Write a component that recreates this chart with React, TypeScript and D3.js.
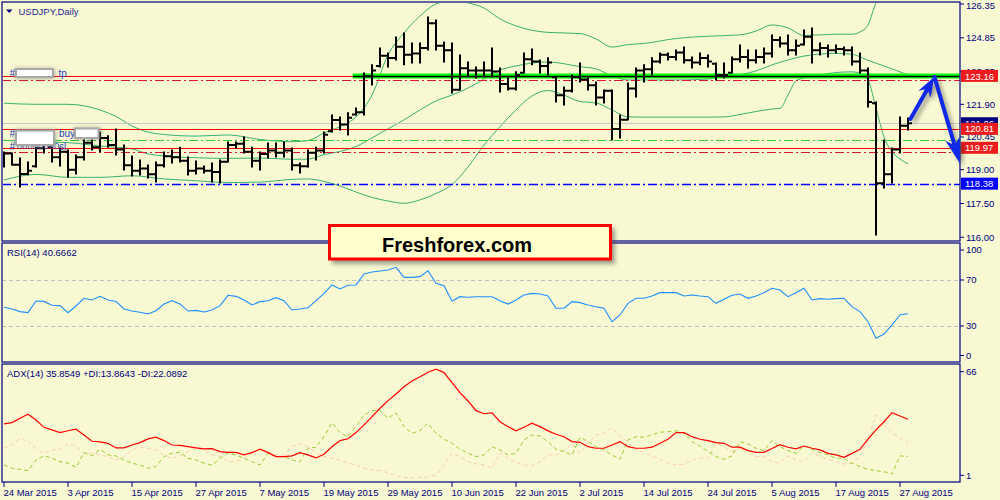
import React, { useEffect } from "react";
import * as d3 from "d3";

// ---------- DATA ----------
const dateTickIdx = [0, 8, 16, 24, 32, 40, 48, 56, 64, 72, 80, 88, 96, 104, 112];
const dateTickLabels = [
  "24 Mar 2015", "3 Apr 2015", "15 Apr 2015", "27 Apr 2015", "7 May 2015",
  "19 May 2015", "29 May 2015", "10 Jun 2015", "22 Jun 2015", "2 Jul 2015",
  "14 Jul 2015", "24 Jul 2015", "5 Aug 2015", "17 Aug 2015", "27 Aug 2015",
];

const openP = [119.70,119.72,119.22,118.81,119.15,119.95,120.00,119.55,119.80,119.00,
119.55,120.20,120.00,120.40,120.10,119.90,119.20,118.95,119.05,118.80,
119.20,119.60,119.55,119.40,118.95,119.05,118.95,118.90,119.35,120.10,
120.15,119.80,119.40,119.70,119.85,119.75,119.85,119.20,119.15,119.75,
119.85,120.70,121.20,121.00,121.45,121.55,123.15,123.60,124.05,123.95,
124.45,124.10,124.15,124.40,125.50,124.50,124.30,122.55,123.50,123.40,
123.40,123.40,123.35,122.80,122.60,123.30,123.90,123.80,123.60,123.10,
122.30,122.50,123.10,123.00,122.75,122.20,122.50,120.80,121.21,122.60,
123.40,123.45,123.80,124.10,124.00,124.20,123.85,123.75,123.95,123.70,
123.20,123.30,123.90,124.00,123.85,124.00,124.15,124.75,124.60,124.30,
124.55,124.90,124.30,124.40,124.30,124.35,124.30,123.80,123.40,121.95,
118.40,118.80,119.90,120.95];
const highP = [119.78,119.74,119.52,119.34,120.00,120.32,120.00,119.96,119.87,119.65,
120.32,120.32,120.67,120.50,120.81,120.10,119.61,119.43,119.21,119.34,
119.78,119.87,120.00,119.56,119.39,119.16,119.30,119.43,120.23,120.23,
120.45,120.00,119.78,120.18,120.18,120.23,119.96,119.30,119.87,120.00,
120.67,121.43,121.34,121.52,121.74,123.29,123.65,124.40,124.18,124.89,
125.06,124.62,124.62,125.77,125.64,124.66,124.62,124.09,123.78,123.56,
123.78,124.40,123.51,123.11,123.34,124.18,124.35,123.87,123.96,123.11,
122.67,123.20,123.73,123.11,122.89,122.54,122.54,121.43,122.85,123.51,
123.65,123.96,124.18,124.18,124.31,124.44,124.00,124.18,124.09,123.73,
123.73,124.00,124.53,124.31,124.31,124.40,124.98,124.89,124.98,124.75,
125.20,125.29,124.62,124.53,124.53,124.44,124.44,124.18,123.51,122.00,
120.32,119.96,121.34,121.29];
const lowP = [119.12,119.21,118.23,118.77,119.12,119.74,119.34,119.16,118.68,118.81,
119.43,119.87,119.79,120.00,119.65,118.99,118.72,118.76,118.63,118.45,
119.12,119.30,119.34,118.76,118.81,118.85,118.45,118.41,119.34,119.96,
119.74,119.12,118.99,119.52,119.56,119.56,118.99,118.85,119.12,119.43,
119.74,120.67,120.76,120.54,121.43,121.43,122.76,123.56,123.56,123.87,
123.65,123.73,123.73,124.31,124.31,123.78,122.40,122.54,123.11,123.07,
123.11,123.11,122.45,122.54,122.54,123.29,123.65,123.29,123.20,122.00,
121.87,122.45,122.89,122.54,121.87,121.96,120.32,120.41,121.21,122.22,
122.89,123.20,123.73,123.87,123.87,123.73,123.51,123.65,123.56,122.98,
123.07,123.29,123.78,123.51,123.73,123.73,124.00,124.44,124.09,124.09,
124.53,123.73,124.09,124.00,124.18,124.09,123.64,123.29,121.78,116.10,
118.19,118.41,119.74,120.76];
const closeP = [119.72,119.22,118.81,118.95,119.95,120.10,119.55,119.80,119.00,119.55,
120.20,120.00,120.40,120.10,119.90,119.20,118.95,119.05,118.80,119.20,
119.60,119.55,119.40,118.95,119.05,118.95,118.90,119.35,120.10,120.15,
119.80,119.40,119.70,119.85,119.75,119.85,119.20,119.15,119.75,119.85,
120.55,121.20,121.00,121.30,121.55,123.15,123.40,124.05,123.95,124.45,
124.10,124.15,124.40,125.50,124.50,124.30,122.55,123.50,123.40,123.40,
123.40,123.35,122.80,122.60,123.20,123.90,123.80,123.60,123.75,122.30,
122.50,123.10,123.00,122.75,122.20,122.50,120.80,121.21,122.60,123.40,
123.45,123.80,124.10,124.00,124.20,123.85,123.75,123.95,123.80,123.20,
123.20,123.90,124.00,123.85,124.00,124.15,124.75,124.60,124.30,124.50,
124.90,124.30,124.40,124.30,124.35,124.30,123.80,123.40,122.00,118.40,
118.80,119.90,120.95,121.06];

const bbUpIdx = [0,4,8,12,14,16,18,20,24,28,32,36,38,40,42,44,46,48,50,52,54,56,58,60,62,64,68,72,74,76,78,80,84,88,92,94,96,98,100,104,106,107,108,109,110,111,112,113];
const bbUpVal = [121.95,121.90,121.90,121.65,121.36,120.94,120.67,120.56,120.49,120.54,120.34,120.24,120.29,120.63,120.91,121.34,122.31,124.09,125.07,125.82,126.35,126.49,126.40,126.17,125.69,125.38,125.09,125.04,124.80,124.44,124.55,124.60,124.82,124.92,124.98,125.15,125.42,125.29,124.95,125.01,125.01,125.11,125.42,126.40,126.80,127.06,127.15,127.15];
const bbMidIdx = [0,4,8,12,16,18,20,24,28,32,36,38,40,42,44,46,48,50,52,54,56,58,60,62,64,66,68,72,74,76,78,80,84,88,90,92,94,96,98,100,104,106,108,110,112,113];
const bbMidVal = [120.30,120.24,120.20,120.05,119.92,119.70,119.61,119.53,119.50,119.52,119.46,119.47,119.67,119.81,120.03,120.41,120.81,121.21,121.65,122.05,122.31,122.62,123.02,123.42,123.60,123.73,123.78,123.57,123.47,123.16,122.98,122.98,122.98,123.02,123.14,123.22,123.38,123.65,123.87,124.04,124.16,124.12,123.85,123.60,123.34,123.20];
const bbLowIdx = [0,4,8,12,16,20,24,28,32,36,38,40,42,44,46,48,50,52,54,56,58,60,62,64,66,68,70,72,74,76,78,80,84,88,90,92,94,96,97,98,99,100,102,104,106,107,108,109,110,111,112,113];
const bbLowVal = [118.54,118.79,118.66,118.66,118.73,118.59,118.51,118.43,118.45,118.57,118.59,118.48,118.28,118.01,117.77,117.61,117.51,117.66,117.94,118.34,119.12,120.09,120.91,121.65,122.27,122.51,122.31,122.02,121.96,121.65,121.34,121.33,121.33,121.33,121.34,121.45,121.58,121.69,121.72,122.31,122.94,123.07,123.20,123.31,123.34,123.28,122.98,121.74,120.45,119.79,119.48,119.25];

const rsiVals = [46.3,44.8,42.5,41.6,51.7,51.4,48.0,47.7,41.6,47.4,54.1,52.6,55.8,52.6,51.4,44.8,43.0,41.9,40.4,43.3,
49.1,52.0,49.1,43.0,43.6,42.2,43.9,47.7,56.7,55.8,52.6,48.3,51.2,52.0,54.6,52.0,43.9,44.8,45.9,52.0,
58.4,65.7,62.2,65.4,65.7,75.2,77.0,77.8,78.7,81.0,72.3,72.3,72.9,78.1,67.1,65.0,51.7,55.5,55.0,55.5,
55.5,55.5,52.0,49.1,52.6,57.0,58.4,57.8,56.1,45.4,45.4,51.2,50.3,48.3,46.8,45.4,33.7,39.6,49.7,54.1,
54.1,56.1,59.0,59.0,59.0,56.1,57.0,56.1,55.5,49.7,53.2,56.7,57.8,54.1,56.1,59.0,62.8,61.3,55.5,59.0,
62.8,52.6,53.8,53.2,53.8,54.1,46.8,42.5,33.7,19.3,23.0,30.9,39.6,40.67];

const adxVals = [33.1,33.9,36.4,38.8,35.4,31.1,29.6,28.0,29.1,30.0,26.6,22.9,22.5,21.7,19.0,19.0,20.7,22.1,24.3,25.3,
23.3,20.7,20.5,19.7,19.0,18.4,18.6,16.8,16.4,16.4,14.9,16.2,18.2,16.2,13.9,13.9,14.3,16.2,14.9,13.1,
15.3,19.7,23.3,24.4,28.0,32.5,37.4,42.3,46.8,50.7,55.0,58.4,60.9,63.5,65.3,63.3,57.4,51.5,46.6,40.9,
39.1,39.6,34.4,31.5,29.0,31.1,33.5,31.5,29.0,27.0,25.6,22.7,22.3,19.7,18.8,18.8,20.7,22.7,19.7,18.8,
18.8,19.4,21.7,24.1,28.0,28.0,25.6,24.1,23.3,22.1,21.7,19.4,19.4,17.4,16.4,16.4,18.6,20.9,19.4,18.4,
20.1,18.8,17.8,15.8,14.9,13.5,15.8,18.2,24.1,29.6,34.4,39.7,37.8,35.85];
const plusDI = [8.95,7.0,6.4,5.6,11.9,14.4,12.9,10.9,10.0,7.6,16.2,14.3,18.2,14.85,14.3,11.9,10.0,8.95,7.0,8.0,
13.9,15.85,16.4,12.9,11.9,10.0,8.8,12.9,15.85,14.85,12.9,10.9,8.95,15.85,13.9,13.9,11.9,10.9,18.8,19.4,
25.6,33.85,28.0,25.6,31.5,38.4,40.9,40.9,36.4,39.7,31.5,27.6,29.1,33.5,27.6,24.1,21.7,18.2,15.85,13.9,
14.85,19.7,17.8,14.85,15.85,23.7,26.6,26.0,22.7,18.2,16.8,14.85,25.3,22.7,19.7,17.8,14.85,12.3,23.7,25.6,
25.3,26.6,28.2,28.6,29.1,27.6,22.7,20.15,16.8,13.9,12.3,14.3,22.7,21.3,18.8,17.4,23.3,19.7,17.4,15.85,
20.15,18.2,16.2,14.85,12.9,12.9,10.0,8.0,6.4,5.6,5.0,3.7,14.3,13.86];
const minusDI = [18.8,20.7,24.7,22.7,18.8,15.85,17.8,18.2,21.7,19.7,15.85,15.85,14.85,13.9,11.9,13.9,17.8,19.7,18.8,17.8,
14.85,12.9,14.3,16.8,18.8,17.8,14.85,13.9,10.9,10.9,12.9,15.85,18.8,16.8,14.85,14.85,19.7,21.3,19.7,15.85,
13.9,12.9,11.9,10.0,8.95,7.0,6.0,5.6,4.4,2.5,1.5,1.5,1.7,1.7,3.1,8.95,15.85,13.9,10.9,9.6,
8.95,7.0,15.85,12.9,10.3,8.95,8.4,10.9,14.85,14.85,17.4,21.3,15.85,21.7,26.6,27.6,31.1,25.6,22.7,17.8,
16.2,14.3,12.3,10.3,8.95,9.5,11.9,12.9,12.9,21.7,19.7,16.8,18.8,15.85,13.9,13.9,10.9,10.0,14.3,11.9,
10.9,15.85,13.9,12.3,10.9,9.5,10.0,13.9,23.7,38.4,32.5,28.0,24.7,22.09];

const priceTicks = [126.35, 124.85, 123.35, 121.9, 120.45, 119.0, 117.5, 116.0];
const rsiLevels = [70, 30];
const rsiAxisLabels = ["100", "70", "30", "0"];
const adxAxisLabels = ["66", "1"];

// horizontal trade / level lines
const tpLevel = 123.16;
const tpDashLevel = 122.96;
const bidLevel = 121.06;
const buyLevel = 120.81;
const greenDashLevel = 120.32;
const slLevel = 119.97;
const slDashLevel = 119.79;
const supportLevel = 118.38;
const highlightStartIdx = 43.6;

const priceBoxes = [
  { v: 123.16, bg: "#ee1c1c" },
  { v: 121.06, bg: "#000080" },
  { v: 120.81, bg: "#ee1c1c" },
  { v: 119.97, bg: "#ee1c1c" },
  { v: 118.38, bg: "#0000ff" },
];

// arrows (bar index, price)
const arrowUp = { from: [113.3, 121.25], to: [116.3, 123.12] };
const arrowDown = { from: [116.3, 123.12], to: [119.5, 119.27] };

const FONT = "'Liberation Sans', Arial, sans-serif";
const NAVY = "#000080";
const BG = "#F8F8D2";

function arrowPath(x0: number, y0: number, x1: number, y1: number, len: number, hw: number, notch: number) {
  const dx = x1 - x0, dy = y1 - y0;
  const d = Math.hypot(dx, dy);
  const ux = dx / d, uy = dy / d;
  const px = -uy, py = ux;
  const bx = x1 - ux * len, by = y1 - uy * len;
  const nx = x1 - ux * (len - notch), ny = y1 - uy * (len - notch);
  return {
    head: `M${x1},${y1}L${bx + px * hw},${by + py * hw}L${nx},${ny}L${bx - px * hw},${by - py * hw}Z`,
    shaft: `M${x0},${y0}L${nx},${ny}`,
  };
}

export default function App() {
  useEffect(() => {
    document.body.style.margin = "0";
  }, []);

  const W = 1000, H = 500;
  const L = 2, R = 960;
  const mainTop = 2, mainBot = 241, rsiTop = 243, rsiBot = 362, adxTop = 364, adxBot = 482;

  const x = d3.scaleLinear().domain([0, 113]).range([4, 908]);
  const y = d3.scaleLinear().domain([116, 126.35]).range([237.3, 4]);
  const yr = d3.scaleLinear().domain([0, 100]).range([360.5, 245.5]);
  const ya = d3.scaleLinear().domain([1, 66]).range([478.5, 368]);

  // bars
  const bp = d3.path();
  const tp = d3.path();
  openP.forEach((o, i) => {
    const cx = x(i);
    bp.moveTo(cx, y(highP[i]) - 0.5);
    bp.lineTo(cx, y(lowP[i]) + 0.5);
    tp.moveTo(cx - 4, y(o));
    tp.lineTo(cx, y(o));
    tp.moveTo(cx, y(closeP[i]));
    tp.lineTo(cx + 4, y(closeP[i]));
  });

  const bandLine = (idx: number[]) =>
    d3.line<number>().x((_, k) => x(idx[k])).y((v) => y(v)).curve(d3.curveMonotoneX);

  const upPath = bandLine(bbUpIdx)(bbUpVal) || "";
  const midPath = bandLine(bbMidIdx)(bbMidVal) || "";
  const lowPath = bandLine(bbLowIdx)(bbLowVal) || "";

  const rsiPath = d3.line<number>().x((_, i) => x(i)).y((v) => yr(v))(rsiVals) || "";
  const adxPath = d3.line<number>().x((_, i) => x(i)).y((v) => ya(v))(adxVals) || "";
  const pdiPath = d3.line<number>().x((_, i) => x(i)).y((v) => ya(v))(plusDI) || "";
  const mdiPath = d3.line<number>().x((_, i) => x(i)).y((v) => ya(v))(minusDI) || "";

  const a1 = arrowPath(x(arrowUp.from[0]), y(arrowUp.from[1]), x(arrowUp.to[0]), y(arrowUp.to[1]), 20, 7, 6);
  const a2 = arrowPath(x(arrowDown.from[0]), y(arrowDown.from[1]), x(arrowDown.to[0]), y(arrowDown.to[1]), 26, 7.5, 7);

  const hl = (v: number, color: string, dash?: string, x0 = L, x1 = R, w = 1) => (
    <line x1={x0} x2={x1} y1={Math.round(y(v)) + 0.5} y2={Math.round(y(v)) + 0.5} stroke={color} strokeWidth={w} strokeDasharray={dash} />
  );

  const rsiLabelYs = [250, yr(70), yr(30), 355.5];
  const adxLabelYs = [371.7, 475.3];

  return (
    <svg width={W} height={H} style={{ position: "absolute", left: 0, top: 0, display: "block" }} fontFamily={FONT}>
      <defs>
        <clipPath id="mainClip">
          <rect x={L + 1} y={mainTop + 1} width={R - L - 1} height={mainBot - mainTop - 1} />
        </clipPath>
        <clipPath id="rsiClip">
          <rect x={L + 1} y={rsiTop + 1} width={R - L - 1} height={rsiBot - rsiTop - 1} />
        </clipPath>
        <clipPath id="adxClip">
          <rect x={L + 1} y={adxTop + 1} width={R - L - 1} height={adxBot - adxTop - 1} />
        </clipPath>
        <filter id="blur3" x="-20%" y="-200%" width="140%" height="500%">
          <feGaussianBlur stdDeviation="3" />
        </filter>
        <filter id="blur2" x="-30%" y="-60%" width="160%" height="220%">
          <feGaussianBlur stdDeviation="2" />
        </filter>
      </defs>

      <rect x={0} y={0} width={W} height={H} fill={BG} />

      {/* ---------- MAIN PANEL ---------- */}
      <g clipPath="url(#mainClip)">
        {/* Bollinger bands */}
        <path d={upPath} fill="none" stroke="#3CB371" strokeWidth={1} />
        <path d={midPath} fill="none" stroke="#3CB371" strokeWidth={1} />
        <path d={lowPath} fill="none" stroke="#3CB371" strokeWidth={1} />

        {/* level lines */}
        {hl(bidLevel, "#C8C8C8")}
        {hl(tpLevel, "#FF0000")}
        {hl(tpDashLevel, "#DC143C", "9,3,2,3")}
        {hl(buyLevel, "#FF0000")}
        {hl(greenDashLevel, "#32CD32", "9,3,2,3")}
        {hl(slLevel, "#FF0000")}
        {hl(slDashLevel, "#DC143C", "9,3,2,3")}
        {hl(supportLevel, "#0000FF", "9,3,2,3", L, R, 1.3)}

        {/* highlighted resistance line with glow */}
        <line x1={x(highlightStartIdx)} x2={R + 4} y1={y(tpLevel)} y2={y(tpLevel)} stroke="#4a4a30" strokeOpacity={0.55} strokeWidth={11} filter="url(#blur3)" />
        <line x1={x(highlightStartIdx)} x2={R} y1={y(tpLevel)} y2={y(tpLevel)} stroke="#00FF00" strokeWidth={5} />
        <line x1={x(highlightStartIdx)} x2={R} y1={y(tpLevel) + 0.5} y2={y(tpLevel) + 0.5} stroke="#000000" strokeWidth={1.5} />

        {/* price bars */}
        <path d={bp.toString()} stroke="#000" strokeWidth={2} fill="none" />
        <path d={tp.toString()} stroke="#000" strokeWidth={2} fill="none" />
      </g>

      {/* title */}
      <path d="M6,9.5 L12.5,9.5 L9.25,13 Z" fill={NAVY} />
      <text x={18.5} y={15} fontSize={9.5} fill="#1f1f8f">USDJPY,Daily</text>

      {/* trade labels left */}
      <g fontSize={10} fill="#2a3fbf">
        <text x={9.5} y={77}>#</text>
        <rect x={15} y={68} width={40} height={11} fill="#777" opacity={0.5} filter="url(#blur2)" />
        <rect x={16} y={69} width={37} height={8} fill="#fff" stroke="#a8a8a8" strokeWidth={2} />
        <text x={58.5} y={76.5}>tp</text>

        <text x={17} y={149} fontSize={9.5} opacity={0.85}>00000000</text>
        <text x={9.5} y={137}>#</text>
        <text x={9.5} y={149.5}>#</text>
        <rect x={15} y={129.5} width={41} height={16.5} fill="#777" opacity={0.5} filter="url(#blur2)" />
        <rect x={16} y={130.5} width={38} height={14.5} fill="#fff" stroke="#a8a8a8" strokeWidth={2} />
        <text x={59} y={136.5}>buy</text>
        <rect x={74} y={127.5} width={27} height={12} fill="#777" opacity={0.5} filter="url(#blur2)" />
        <rect x={75} y={128.5} width={23.5} height={9.5} fill="#fff" stroke="#a8a8a8" strokeWidth={2} />
        <text x={59} y={149.5}>sl</text>
      </g>

      {/* ---------- RSI PANEL ---------- */}
      <g clipPath="url(#rsiClip)">
        {rsiLevels.map((lv) => (
          <line key={lv} x1={L} x2={R} y1={Math.round(yr(lv)) + 0.5} y2={Math.round(yr(lv)) + 0.5} stroke="#C0C0C0" strokeDasharray="4,3" />
        ))}
        <path d={rsiPath} fill="none" stroke="#1E90FF" strokeWidth={1.1} />
      </g>
      <text x={7} y={256} fontSize={9.5} fill={NAVY}>RSI(14) 40.6662</text>

      {/* ---------- ADX PANEL ---------- */}
      <g clipPath="url(#adxClip)">
        <path d={mdiPath} fill="none" stroke="#F9CFAE" strokeWidth={1} strokeDasharray="4,3" />
        <path d={pdiPath} fill="none" stroke="#9ACD32" strokeWidth={1} strokeDasharray="4,3" />
        <path d={adxPath} fill="none" stroke="#FF0000" strokeWidth={1.2} />
      </g>
      <text x={7} y={377} fontSize={9.5} fill={NAVY}>ADX(14) 35.8549 +DI:13.8643 -DI:22.0892</text>

      {/* ---------- PANEL BORDERS ---------- */}
      <g fill="none" stroke={NAVY} strokeWidth={1.2}>
        <rect x={L} y={mainTop} width={R - L} height={mainBot - mainTop} />
        <rect x={L} y={rsiTop} width={R - L} height={rsiBot - rsiTop} />
        <rect x={L} y={adxTop} width={R - L} height={adxBot - adxTop} />
      </g>

      {/* ---------- RIGHT AXIS ---------- */}
      <g fontSize={9.5} fill={NAVY}>
        {priceTicks.map((t) => (
          <g key={t}>
            <line x1={R} x2={R + 4} y1={y(t)} y2={y(t)} stroke={NAVY} />
            <text x={966} y={Math.max(y(t) + 3.4, 8.5)}>{t.toFixed(2)}</text>
          </g>
        ))}
        {rsiAxisLabels.map((t, k) => (
          <g key={"r" + t}>
            <line x1={R} x2={R + 4} y1={rsiLabelYs[k]} y2={rsiLabelYs[k]} stroke={NAVY} />
            <text x={966} y={rsiLabelYs[k] + 3.4}>{t}</text>
          </g>
        ))}
        {adxAxisLabels.map((t, k) => (
          <g key={"a" + t}>
            <line x1={R} x2={R + 4} y1={adxLabelYs[k]} y2={adxLabelYs[k]} stroke={NAVY} />
            <text x={966} y={adxLabelYs[k] + 3.4}>{t}</text>
          </g>
        ))}
      </g>
      {priceBoxes.map((b) => (
        <g key={b.v}>
          <rect x={961} y={y(b.v) - 6} width={37} height={12} fill={b.bg} />
          <text x={965} y={y(b.v) + 3.6} fontSize={9.5} fill="#fff">{b.v.toFixed(2)}</text>
        </g>
      ))}

      {/* ---------- DATE AXIS ---------- */}
      <g fontSize={9.5} fill={NAVY}>
        {dateTickIdx.map((ix, k) => (
          <g key={ix}>
            <line x1={x(ix)} x2={x(ix)} y1={adxBot} y2={adxBot + 5} stroke={NAVY} />
            <text x={x(ix) - 0.5} y={496}>{dateTickLabels[k]}</text>
          </g>
        ))}
      </g>

      {/* ---------- ARROWS ---------- */}
      <g transform="translate(3,3)" opacity={0.45} filter="url(#blur2)">
        <path d={a1.shaft} stroke="#333" strokeWidth={4} fill="none" />
        <path d={a1.head} fill="#333" />
        <path d={a2.shaft} stroke="#333" strokeWidth={4} fill="none" />
        <path d={a2.head} fill="#333" />
      </g>
      <path d={a1.shaft} stroke="#1028E8" strokeWidth={4} fill="none" strokeLinecap="round" />
      <path d={a1.head} fill="#1028E8" />
      <path d={a2.shaft} stroke="#1028E8" strokeWidth={4} fill="none" strokeLinecap="round" />
      <path d={a2.head} fill="#1028E8" />

      {/* ---------- FRESHFOREX BOX ---------- */}
      <rect x={332} y={228.5} width={283} height={35.5} fill="#555" opacity={0.55} filter="url(#blur2)" />
      <rect x={329.5} y={225.5} width={281} height={33.5} fill="#FFFFCC" stroke="#FF0000" strokeWidth={3} />
      <text x={382} y={251.5} fontSize={20} fontWeight="bold" fill="#000">Freshforex.com</text>
    </svg>
  );
}
